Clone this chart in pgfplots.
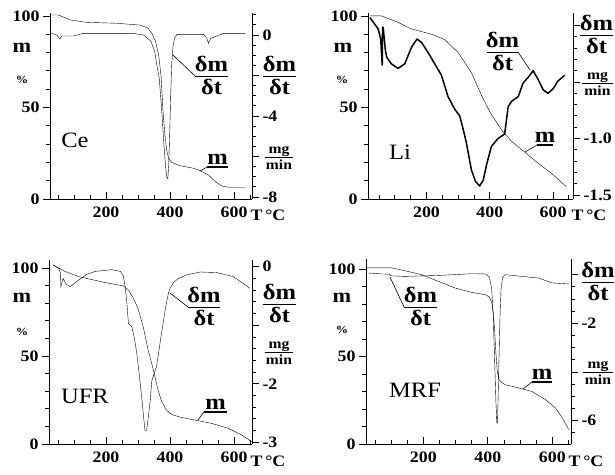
\documentclass[border=0pt]{standalone}
\usepackage{fontspec}
\setmainfont{Liberation Serif}[FakeStretch=1.12]
\usepackage{pgfplots}
\pgfplotsset{compat=1.18}

\newcommand{\ticfont}{\fontsize{16}{16}\selectfont\bfseries}
\newcommand{\fracfont}{\fontsize{22}{22}\selectfont\bfseries}
\newcommand{\unitfont}{\fontsize{14}{14}\selectfont\bfseries}
\newcommand{\namefont}{\fontsize{22}{22}\selectfont}

% axes: x line (ticks inside), left m axis, right dm/dt axis
\pgfplotsset{
  base/.style={scale only axis,
    cycle list={{black, line width=0.75bp, line join=round, mark=none}},
    every tick/.style={black, line width=0.8bp},
    axis line style={black, line width=0.9bp},
    major tick length=7bp, minor tick length=4bp,
    ticklabel style={font=\ticfont}},
  xax/.style={base, axis x line*=bottom, axis y line=none, tick align=inside,
    xtick={200,400,600}, xticklabels={200,400,600},
    xticklabel style={yshift=-4bp},
    minor xtick={50,100,150,250,300,350,450,500,550,650}, ymin=0, ymax=1},
  mleft/.style={base, axis x line=none, axis y line*=left, tick align=outside,
    ymin=0, ytick={0,50,100}, yticklabels={0,50,100},
    minor ytick={10,20,30,40,60,70,80,90}},
  dright/.style={base, axis x line=none, axis y line*=right, tick align=outside},
  p1/.style={at={(50bp,276bp)}, width=202bp, height=186bp, xmin=25, xmax=656},
  p2/.style={at={(368bp,276bp)}, width=205bp, height=186bp, xmin=15, xmax=663},
  p3/.style={at={(49bp,31bp)}, width=203bp, height=184bp, xmin=22, xmax=656},
  p4/.style={at={(366bp,31bp)}, width=205bp, height=185bp, xmin=22, xmax=658},
}

% fraction label dm/dt: left x, right x, bar y (picture px, y down)
\newcommand{\dmdt}[3]{%
  \draw[line width=0.9bp] (#1,#3) -- (#2,#3);
  \node[anchor=south, inner sep=0pt, yshift=3.5bp, font=\fracfont] at ({(#1+#2)/2},#3) {δm};
  \node[anchor=north, inner sep=0pt, yshift=-3bp, font=\fracfont] at ({(#1+#2)/2},#3) {δt};}
\newcommand{\mgmin}[3]{%
  \draw[line width=0.9bp] (#1,#3) -- (#2,#3);
  \node[anchor=base, inner sep=0pt, yshift=3.5bp, font=\unitfont] at ({(#1+#2)/2},#3) {mg};
  \node[anchor=north, inner sep=0pt, yshift=-3bp, font=\unitfont] at ({(#1+#2)/2},#3) {min};}
\newcommand{\mlab}[3]{%
  \draw[line width=1.1bp] (#1,#3) -- (#2,#3);
  \node[anchor=base, inner sep=0pt, yshift=2.5bp, font=\fracfont] at ({(#1+#2)/2},#3) {m};}

\begin{document}
\begin{tikzpicture}
\useasboundingbox (0,0) rectangle (615bp,475bp);

% ---------- Ce ----------
\begin{axis}[xax, p1]\end{axis}
\begin{axis}[mleft, p1, ymax=101.6]
\addplot coordinates {(25,100.5) (51,100.5) (88,97.8) (140,96.5) (233,96) (306,95) (330,93.5) (345,90) (355,86) (365,78) (372,67) (378,48) (384,35) (390,26) (396,22) (405,20) (431,18.2) (473,16.8) (494,15.5) (520,13.1) (541,9.5) (562,7.1) (580,6.5) (598,6.4) (634,6.4)};
\end{axis}
\begin{axis}[dright, p1, ymin=-8.1, ymax=1.086,
  ytick={0,-2,-4,-6,-8}, yticklabels={0,,-4,,-8},
  minor ytick={0.5,1,-0.5,-1,-1.5,-2.5,-3,-3.5,-4.5,-5,-5.5,-6.5,-7,-7.5}]
\addplot coordinates {(25,0.11) (46,0) (56,-0.21) (62,-0.05) (98,-0.05) (129,0.08) (285,0.08) (317,0) (340,-0.3) (352,-0.8) (360,-1.6) (366,-2.1) (373,-3.5) (380,-5.2) (386,-6.5) (390,-7.05) (393,-7.1) (396,-6.4) (399,-4.8) (402,-3.0) (405,-1.5) (409,-0.6) (414,-0.15) (422,0.03) (505,0.03) (515,-0.17) (520,-0.41) (527,-0.17) (546,-0.05) (567,0.08) (634,0.08)};
\end{axis}

% ---------- Li ----------
\begin{axis}[xax, p2]\end{axis}
\begin{axis}[mleft, p2, ymax=101.6]
\addplot coordinates {(21,100) (58,100) (110,96.5) (150,93) (216,90) (258,87) (300,80) (342,69) (374,56.5) (402,47) (440,37) (470,31.3) (511,25.5) (553,19.5) (595,14) (642,6.7)};
\end{axis}
\begin{axis}[dright, p2, ymin=-1.535, ymax=0.11,
  ytick={0,-0.5,-1,-1.5}, yticklabels={,,-1.0,-1.5},
  minor ytick={-0.1,-0.2,-0.3,-0.4,-0.6,-0.7,-0.8,-0.9,-1.1,-1.2,-1.3,-1.4}]
\addplot[black, line width=1.5bp, line join=round] coordinates {(21,0.07) (47,-0.03) (55,-0.12) (60,-0.35) (61,-0.015) (63,-0.02) (70,-0.22) (74,-0.28) (89,-0.34) (110,-0.38) (131,-0.34) (153,-0.19) (170,-0.12) (184,-0.15) (205,-0.24) (226,-0.34) (247,-0.44) (268,-0.63) (289,-0.74) (305,-0.8) (316,-0.92) (326,-1.04) (342,-1.28) (355,-1.38) (368,-1.42) (379,-1.37) (390,-1.23) (405,-1.07) (426,-1.0) (447,-0.96) (458,-0.72) (469,-0.67) (490,-0.63) (505,-0.51) (521,-0.46) (537,-0.40) (553,-0.48) (569,-0.57) (584,-0.60) (600,-0.56) (616,-0.49) (637,-0.44)};
\end{axis}

% ---------- UFR ----------
\begin{axis}[xax, p3]\end{axis}
\begin{axis}[mleft, p3, ymax=104.5]
\addplot coordinates {(35,101.7) (72,98) (116,95) (197,91.7) (254,89.8) (270,87.5) (285,83) (300,77) (317,66) (332,53) (348,42) (362,31) (374,24) (390,19) (405,16.8) (430,15.3) (478,13.6) (530,11.7) (582,8.9) (624,5.1) (655,1.3)};
\end{axis}
\begin{axis}[dright, p3, ymin=-3.03, ymax=0.115,
  ytick={0,-1,-2,-3}, yticklabels={0,,-2,-3},
  minor ytick={-0.2,-0.4,-0.6,-0.8,-1.2,-1.4,-1.6,-1.8,-2.2,-2.4,-2.6,-2.8}]
\addplot coordinates {(35,0.03) (52,-0.03) (58,-0.1) (59,-0.34) (66,-0.2) (76,-0.3) (88,-0.34) (114,-0.23) (140,-0.13) (166,-0.08) (218,-0.05) (245,-0.08) (254,-0.15) (260,-0.35) (265,-0.6) (270,-0.97) (280,-1.02) (288,-1.2) (296,-1.47) (304,-1.85) (312,-2.25) (318,-2.6) (322,-2.8) (327,-2.8) (338,-2.3) (343,-1.95) (358,-1.7) (369,-1.3) (379,-0.94) (386,-0.7) (395,-0.45) (400,-0.37) (411,-0.27) (426,-0.2) (452,-0.14) (494,-0.09) (546,-0.1) (598,-0.17) (650,-0.37)};
\end{axis}

% ---------- MRF ----------
\begin{axis}[xax, p4]\end{axis}
\begin{axis}[mleft, p4, ymax=105.7]
\addplot coordinates {(24,100.6) (102,100.6) (143,99) (195,96.7) (247,92.9) (299,89.1) (351,86.6) (392,85.3) (405,84) (412,81) (417,75) (421,65) (425,52) (429,42) (434,37) (442,35.3) (454,33.9) (496,32) (537,30) (579,25.3) (610,20.6) (631,14.9) (651,8.2)};
\end{axis}
\begin{axis}[dright, p4, ymin=-6.96, ymax=0.645,
  ytick={0,-2,-4,-6}, yticklabels={,-2,,-6},
  minor ytick={-0.5,-1,-1.5,-2.5,-3,-3.5,-4.5,-5,-5.5,-6.5}]
\addplot coordinates {(29,0.07) (71,0.03) (95,0.02) (100,-0.05) (143,-0.07) (247,-0.03) (351,0.04) (392,0.03) (405,-0.1) (412,-0.6) (417,-1.8) (421,-3.5) (425,-5.2) (428,-6.1) (430,-6.1) (432,-5.0) (435,-3.2) (438,-1.6) (441,-0.6) (446,-0.1) (454,0.0) (506,-0.07) (558,-0.14) (600,-0.34) (651,-0.38)};
\end{axis}

% ---------- labels (picture px, y down) ----------
\begin{scope}[x=1bp, y=-1bp, yshift=475bp]
  % left axis titles
  \foreach \lx/\ly in {22/48, 343/48, 22/298, 342/298}
    \node[font=\fontsize{20}{20}\selectfont\bfseries, inner sep=0pt] at (\lx,\ly) {m};
  \foreach \lx/\ly in {22/80, 342/80, 22/332, 342/330}
    \node[font=\fontsize{11}{11}\selectfont\bfseries, inner sep=0pt] at (\lx,\ly) {\%};
  % temperature unit
  \foreach \lx/\ly in {268/215, 589/215, 268/461, 586/461}
    \node[font=\ticfont, inner sep=0pt] at (\lx,\ly) {T\,°C};
  % sample names
  \node[font=\namefont, inner sep=0pt] at (75,140) {Ce};
  \node[font=\namefont, inner sep=0pt] at (400,152) {Li};
  \node[font=\namefont, inner sep=0pt] at (85,396) {UFR};
  \node[font=\namefont, inner sep=0pt] at (415,390) {MRF};
  % right axis titles
  \dmdt{263}{296}{76}   \mgmin{265}{293}{157}
  \dmdt{580}{613}{35}   \mgmin{582}{613}{83}
  \dmdt{263}{296}{304}  \mgmin{265}{293}{352}
  \dmdt{582}{614}{282}  \mgmin{583}{613}{372}
  % curve annotations
  \draw[line width=0.6bp] (173,55) -- (195,76);  \dmdt{195}{228}{76}
  \draw[line width=0.6bp] (200,171) -- (207,167); \mlab{207}{228}{167}
  \draw[line width=0.6bp] (530,70) -- (518,52);  \dmdt{487}{518}{52}
  \draw[line width=0.6bp] (525,152) -- (537,145); \mlab{537}{553}{145}
  \draw[line width=0.6bp] (170,293) -- (188,307); \dmdt{188}{220}{307}
  \draw[line width=0.6bp] (198,420) -- (204,412); \mlab{204}{227}{412}
  \draw[line width=0.6bp] (390,277) -- (404,307); \dmdt{404}{437}{307}
  \draw[line width=0.6bp] (523,389) -- (532,382); \mlab{532}{552}{382}
\end{scope}
\end{tikzpicture}
\end{document}
